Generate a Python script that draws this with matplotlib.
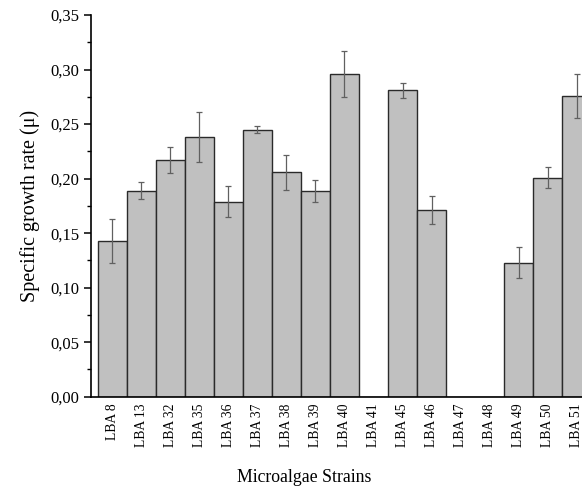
import matplotlib.pyplot as plt
import numpy as np

# ==================== DATA ====================
strains = ["LBA 8", "LBA 13", "LBA 32", "LBA 35", "LBA 36", "LBA 37", "LBA 38",
           "LBA 39", "LBA 40", "LBA 41", "LBA 45", "LBA 46", "LBA 47", "LBA 48",
           "LBA 49", "LBA 50", "LBA 51"]
growth_rate = [0.143, 0.189, 0.217, 0.238, 0.179, 0.245, 0.206,
               0.189, 0.296, 0.0, 0.281, 0.171, 0.0, 0.0,
               0.123, 0.201, 0.276]
growth_err = [0.020, 0.008, 0.012, 0.023, 0.014, 0.003, 0.016,
              0.010, 0.021, 0.0, 0.007, 0.013, 0.0, 0.0,
              0.014, 0.010, 0.020]
y_ticks = [0.00, 0.05, 0.10, 0.15, 0.20, 0.25, 0.30, 0.35]

plt.rcParams['font.family'] = ['Liberation Serif', 'DejaVu Serif']

# ==================== PLOT ====================
fig = plt.figure(figsize=(5.82, 4.86), dpi=100)
ax = fig.add_axes([0.1564, 0.1837, 0.8436, 0.7853])

x = np.arange(len(strains))
ax.bar(x, growth_rate, width=1.0, color='#c0c0c0', edgecolor='#2a2a2a',
       linewidth=1.0, zorder=2)

vals = np.array(growth_rate)
errs = np.array(growth_err)
mask = vals > 0
ax.errorbar(x[mask], vals[mask], yerr=errs[mask], fmt='none', ecolor='#606060',
            elinewidth=0.9, capsize=2.5, capthick=0.9, zorder=3)

ax.set_xlim(-0.73, 16.18)
ax.set_ylim(0, 0.35)
ax.set_yticks(y_ticks)
ax.set_yticklabels([f"{t:.2f}".replace('.', ',') for t in y_ticks], fontsize=12)
ax.set_yticks(np.arange(0.025, 0.35, 0.05), minor=True)
ax.set_xticks(x)
ax.set_xticklabels(strains, rotation=90, fontsize=9.8)

ax.tick_params(axis='x', length=0, pad=5)
ax.tick_params(axis='y', which='major', length=5, width=1.1, direction='out')
ax.tick_params(axis='y', which='minor', length=3, width=1.0, direction='out')

for s in ['top', 'right']:
    ax.spines[s].set_visible(False)
for s in ['left', 'bottom']:
    ax.spines[s].set_linewidth(1.2)

ax.set_ylabel('Specific growth rate (μ)', fontsize=14.5, labelpad=7)
fig.text(304 / 582, 1 - 477 / 486, 'Microalgae Strains', fontsize=12.8,
         ha='center', va='center')

plt.savefig('out.png', dpi=100, facecolor='white')
